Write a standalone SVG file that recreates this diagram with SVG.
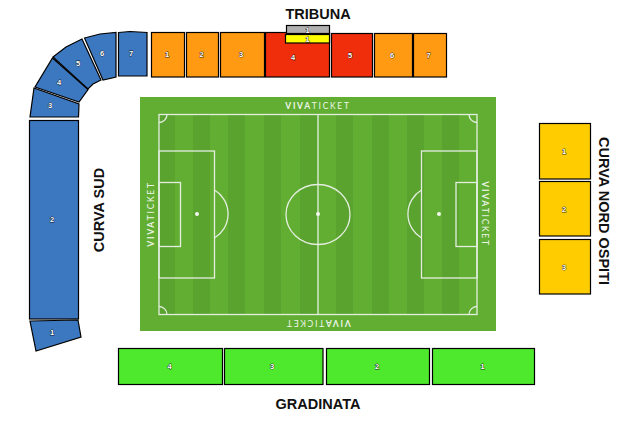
<svg xmlns="http://www.w3.org/2000/svg" width="624" height="435" viewBox="0 0 624 435">
<style>
.s{stroke:#000;stroke-width:1.2}
.b{fill:#3c78c0}.o{fill:#ff9a12}.r{fill:#f02e0c}.g{fill:#4ee82c}.y{fill:#ffcc00}
.n{font:bold 7.500px "Liberation Sans",Arial,sans-serif;fill:#fff;text-anchor:middle;stroke:#000;stroke-width:.8px;stroke-opacity:.8;paint-order:stroke}
.t{font:bold 14.500px "Liberation Sans",Arial,sans-serif;fill:#111;text-anchor:middle}
.l{fill:none;stroke:#e4eee0;stroke-width:1.3}
.v{font:8.500px "Lato","Liberation Sans",sans-serif;fill:#eef5ea;text-anchor:middle;letter-spacing:1.700px}
.v tspan{font-weight:bold}
.d{fill:#5aa32f}
</style>
<rect width="624" height="435" fill="#fff"/>
<g id="pitch">
<rect x="140" y="97" width="356" height="234" fill="#62ae32"/>
<rect class="d" x="159" y="115" width="16" height="199"/>
<rect class="d" x="193" y="115" width="17" height="199"/>
<rect class="d" x="228" y="115" width="17" height="199"/>
<rect class="d" x="264" y="115" width="17" height="199"/>
<rect class="d" x="300" y="115" width="17" height="199"/>
<rect class="d" x="336" y="115" width="17" height="199"/>
<rect class="d" x="372" y="115" width="17" height="199"/>
<rect class="d" x="407" y="115" width="17" height="199"/>
<rect class="d" x="442" y="115" width="17" height="199"/>
<rect class="l" x="159" y="114.500" width="318" height="200"/>
<path class="l" d="M318 114.500V314.500"/>
<ellipse class="l" cx="318" cy="214.500" rx="32" ry="30"/>
<rect class="l" x="159" y="151" width="55.500" height="127"/>
<rect class="l" x="159" y="182.500" width="21.500" height="64"/>
<rect class="l" x="421.500" y="151" width="55.500" height="127"/>
<rect class="l" x="456" y="182.500" width="21" height="64"/>
<path class="l" d="M214.500 190A28 28 0 0 1 214.500 238M421.500 190A28 28 0 0 0 421.500 238"/>
<path class="l" d="M167 114.500A8 8 0 0 1 159 122.500M469 114.500A8 8 0 0 0 477 122.500M159 306.500A8 8 0 0 1 167 314.500M477 306.500A8 8 0 0 0 469 314.500"/>
<g fill="#f2f6ee"><circle cx="197" cy="214" r="2"/><circle cx="318" cy="214" r="2"/><circle cx="439" cy="214" r="2"/></g>
<text class="v" x="318" y="109"><tspan>VIVA</tspan>TICKET</text>
<text class="v" transform="translate(318 320) rotate(180)"><tspan>VIVA</tspan>TICKET</text>
<text class="v" transform="translate(154 214) rotate(-90)"><tspan>VIVA</tspan>TICKET</text>
<text class="v" transform="translate(482 214) rotate(90)"><tspan>VIVA</tspan>TICKET</text>
</g>
<g id="curva-sud">
<g id="cs1"><path class="s b" d="M30 321L78 320L81 337L36 351Z"/><text class="n" x="52" y="335">1</text></g>
<g id="cs2"><rect class="s b" x="29.500" y="120.500" width="49" height="198.500"/><text class="n" x="52" y="222">2</text></g>
<g id="cs3"><path class="s b" d="M34 88L79 104L78.500 117L30 117Z"/><text class="n" x="50" y="108">3</text></g>
<g id="cs4"><path class="s b" d="M52.500 58L88 89.500L79 102L35 87Z"/><text class="n" x="59" y="85">4</text></g>
<g id="cs5"><path class="s b" d="M53 57L66 47L82 39L101 80L93 84L88 89Z"/><text class="n" x="78" y="66">5</text></g>
<g id="cs6"><path class="s b" d="M84.500 38L100 34L116 32.500V77L103 80Z"/><text class="n" x="102" y="56">6</text></g>
<g id="cs7"><path class="s b" d="M118.500 32.500L130 31.500L147 32.500V76H118.500Z"/><text class="n" x="131" y="56">7</text></g>
</g>
<g id="tribuna">
<g id="t1"><rect class="s o" x="151.500" y="32.500" width="33" height="44.500"/><text class="n" x="167" y="57">1</text></g>
<g id="t2"><rect class="s o" x="186.500" y="32.500" width="32" height="44.500"/><text class="n" x="201.500" y="57">2</text></g>
<g id="t3"><rect class="s o" x="220.500" y="32.500" width="44" height="44.500"/><text class="n" x="241" y="57">3</text></g>
<g id="t4"><rect class="s r" x="265.500" y="32.500" width="64" height="44.500"/><text class="n" x="293" y="60">4</text></g>
<g id="t5"><rect class="s r" x="331.500" y="33.500" width="41" height="43.500"/><text class="n" x="350" y="58">5</text></g>
<g id="t6"><rect class="s o" x="374.500" y="33.500" width="38" height="43.500"/><text class="n" x="392" y="58">6</text></g>
<g id="t7"><rect class="s o" x="413.500" y="33.500" width="33" height="43.500"/><text class="n" x="428.500" y="58">7</text></g>
<g id="t-grey"><rect class="s" fill="#b0b0b0" x="286.500" y="25.500" width="43" height="8"/><text class="n" x="307.500" y="32.500">1</text></g>
<g id="t-yellow"><rect class="s" fill="#ffff00" x="285.500" y="34.500" width="44" height="8.500"/><text class="n" x="307.500" y="41.500">1</text></g>
</g>
<g id="curva-nord">
<g id="n1"><rect class="s y" x="539.500" y="123.500" width="51" height="55.500"/><text class="n" x="564" y="154">1</text></g>
<g id="n2"><rect class="s y" x="539.500" y="181.500" width="51" height="54.500"/><text class="n" x="564" y="212">2</text></g>
<g id="n3"><rect class="s y" x="539.500" y="239.500" width="51" height="54.500"/><text class="n" x="564" y="270">3</text></g>
</g>
<g id="gradinata">
<g id="g4"><rect class="s g" x="118.500" y="348.500" width="104" height="36"/><text class="n" x="169.500" y="369">4</text></g>
<g id="g3"><rect class="s g" x="224.500" y="348.500" width="98.500" height="36"/><text class="n" x="272" y="369">3</text></g>
<g id="g2"><rect class="s g" x="326.500" y="348.500" width="103" height="36"/><text class="n" x="377" y="369">2</text></g>
<g id="g1"><rect class="s g" x="432.500" y="348.500" width="102" height="36"/><text class="n" x="482.500" y="369">1</text></g>
</g>
<g id="labels">
<text class="t" x="318" y="19">TRIBUNA</text>
<text class="t" x="318" y="409">GRADINATA</text>
<text class="t" transform="translate(104 210) rotate(-90)">CURVA SUD</text>
<text class="t" transform="translate(599 211) rotate(90)">CURVA NORD OSPITI</text>
</g>
<g id="connectors"/>
</svg>
